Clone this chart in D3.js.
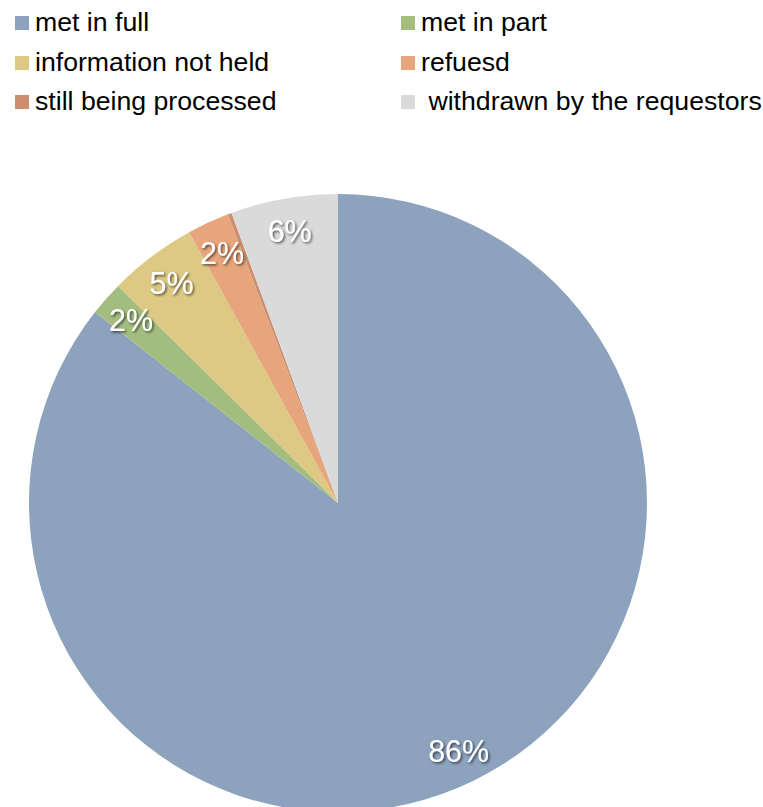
<!DOCTYPE html>
<html>
<head>
<meta charset="utf-8">
<script src="https://cdn.jsdelivr.net/npm/d3@7"></script>
<style>
  html, body { margin: 0; padding: 0; background: #fff; }
  svg { display: block; }
  text { font-family: "Liberation Sans", Arial, sans-serif; }
</style>
</head>
<body>
<svg id="chart" width="763" height="807"></svg>
<script>
// Outcome of requests (share of all requests, %)
const categories = [
  "met in full",
  "met in part",
  "information not held",
  "refuesd",
  "still being processed",
  " withdrawn by the requestors"
];
const values = [85.6, 1.8, 4.6, 2.2, 0.2, 5.6];
const colors = ["#8ca2bd", "#a3bd7f", "#ddc984", "#e6a57b", "#cc8e6e", "#dadada"];

const W = 763, H = 807;
const cx = 338, cy = 503, R = 309;

const svg = d3.select("#chart");

// soft dark shadow behind the white slice labels
const defs = svg.append("defs");
const f = defs.append("filter").attr("id", "lblShadow")
  .attr("x", "-20%").attr("y", "-20%").attr("width", "140%").attr("height", "140%");
f.append("feDropShadow")
  .attr("dx", 1.5).attr("dy", 1.5).attr("stdDeviation", 1)
  .attr("flood-color", "#000").attr("flood-opacity", 0.6);

const data = categories.map((c, i) => ({ name: c, value: values[i], color: colors[i] }));

const pie = d3.pie().sort(null).value(d => d.value);
const arcs = pie(data);
const total = d3.sum(values);

const arc = d3.arc().innerRadius(0).outerRadius(R);
const labelArc = d3.arc().innerRadius(276).outerRadius(276);

const g = svg.append("g").attr("transform", `translate(${cx},${cy})`);

g.selectAll("path.slice")
  .data(arcs)
  .join("path")
  .attr("class", "slice")
  .attr("d", arc)
  .attr("fill", d => d.data.color);

const pct = d3.format(".0%");
g.selectAll("text.lbl")
  .data(arcs.filter(d => Math.round(d.data.value / total * 100) >= 1))
  .join("text")
  .attr("class", "lbl")
  .attr("transform", d => `translate(${labelArc.centroid(d)})`)
  .attr("text-anchor", "middle")
  .attr("dy", "0.36em")
  .attr("font-size", 30.5)
  .attr("fill", "#fff")
  .attr("filter", "url(#lblShadow)")
  .text(d => pct(d.data.value / total));

// legend: two columns, three rows
const legend = svg.append("g");
const colX = [15, 401];
const rowY = [31, 71, 110];
const items = legend.selectAll("g.item")
  .data(data)
  .join("g")
  .attr("class", "item")
  .attr("transform", (d, i) => `translate(${colX[i % 2]},${rowY[Math.floor(i / 2)]})`);

items.append("rect")
  .attr("x", 0).attr("y", -15)
  .attr("width", 14).attr("height", 14)
  .attr("fill", d => d.color);

items.append("text")
  .attr("x", 20).attr("y", 0)
  .attr("font-size", 26.67)
  .attr("fill", "#000")
  .style("white-space", "pre")
  .text(d => d.name);
</script>
</body>
</html>
